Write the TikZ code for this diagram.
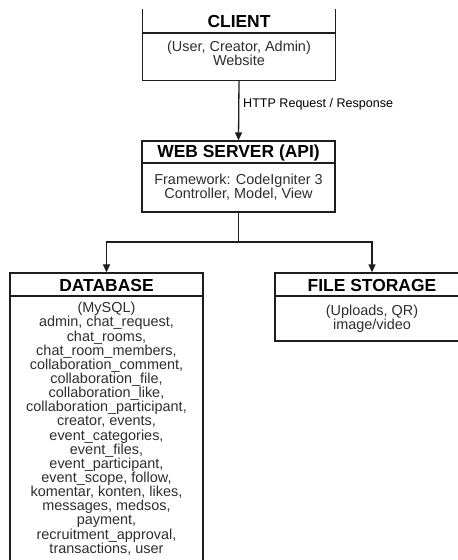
\documentclass[tikz,border=0pt]{standalone}
\usepackage{fontspec}
\setmainfont{Liberation Sans}
\usetikzlibrary{arrows.meta}
\definecolor{linegray}{HTML}{1E1E1E}
\definecolor{textgray}{HTML}{2E2E2E}
\begin{document}
\begin{tikzpicture}[x=1bp,y=-1bp,
  box/.style={draw=linegray, line width=1.3bp, fill=white, rectangle, inner sep=0pt},
  openbox/.style={rectangle, inner sep=0pt},
  head/.style={font=\fontsize{17.5}{18}\selectfont\bfseries, text=black, inner sep=0pt},
  body/.style={font=\fontsize{14.5}{14.2}\selectfont, text=textgray, align=center, inner sep=0pt},
  lbl/.style={font=\fontsize{12.6}{14}\selectfont, text=black, inner sep=0pt, anchor=west},
  conn/.style={draw=linegray, line width=1.3bp},
  arr/.style={conn, -{Triangle[length=8bp,width=7bp]}}
]
\useasboundingbox (0,0) rectangle (458,560);
\clip (0,0) rectangle (458,560);
\fill[white] (0,0) rectangle (458,560);

% boxes (the client frame is open at the top edge of the sheet)
\node[openbox, minimum width=192bp, minimum height=71bp] (client) at (239,44.5) {};
\draw[conn] (client.north west) -- (client.south west) -- (client.south east) -- (client.north east);
\node[box, minimum width=193bp, minimum height=71bp] (web) at (238.5,176.5) {};
\node[box, minimum width=193bp, minimum height=289bp] (db) at (106.5,417.5) {};
\node[box, minimum width=194bp, minimum height=68bp] (fs) at (372,307) {};

% header separators
\draw[conn] (client.west |- 0,33) coordinate (cs1) -- (client.east |- 0,33) coordinate (cs2);
\draw[conn] (web.west |- 0,163) coordinate (ws1) -- (web.east |- 0,163) coordinate (ws2);
\draw[conn] (db.west |- 0,296) coordinate (ds1) -- (db.east |- 0,296) coordinate (ds2);
\draw[conn] (fs.west |- 0,296) coordinate (fs1) -- (fs.east |- 0,296) coordinate (fs2);

% headers
\node[head] (clienth) at (239,21.5) {CLIENT};
\node[head] (webh) at (238.5,152.5) {WEB SERVER (API)};
\node[head] (dbh) at (106.5,285) {DATABASE};
\node[head] (fsh) at (372,285) {FILE STORAGE};

% contents
\node[body] (clientb) at (239,53) {(User, Creator, Admin)\\Website};
\node[body] (webb) at (238.5,187) {Framework: CodeIgniter 3\\Controller, Model, View};
\node[body] (fsb) at (372,318.5) {(Uploads, QR)\\image/video};
\node[body] (dbb) at (106.5,428.7) {(MySQL)\\admin, chat\_request,\\chat\_rooms,\\chat\_room\_members,\\collaboration\_comment,\\collaboration\_file,\\collaboration\_like,\\collaboration\_participant,\\creator, events,\\event\_categories,\\event\_files,\\event\_participant,\\event\_scope, follow,\\komentar, konten, likes,\\messages, medsos,\\payment,\\recruitment\_approval,\\transactions, user};

% connectors
\draw[arr] (client.south) -- (web.north);
\node[lbl] (http) at (243,104) {HTTP Request / Response};
\coordinate (split) at (238.5,242);
\draw[conn] (web.south) -- (split);
\draw[arr] (split) -| (db.north);
\draw[arr] (split) -| (fs.north);
\end{tikzpicture}
\end{document}
